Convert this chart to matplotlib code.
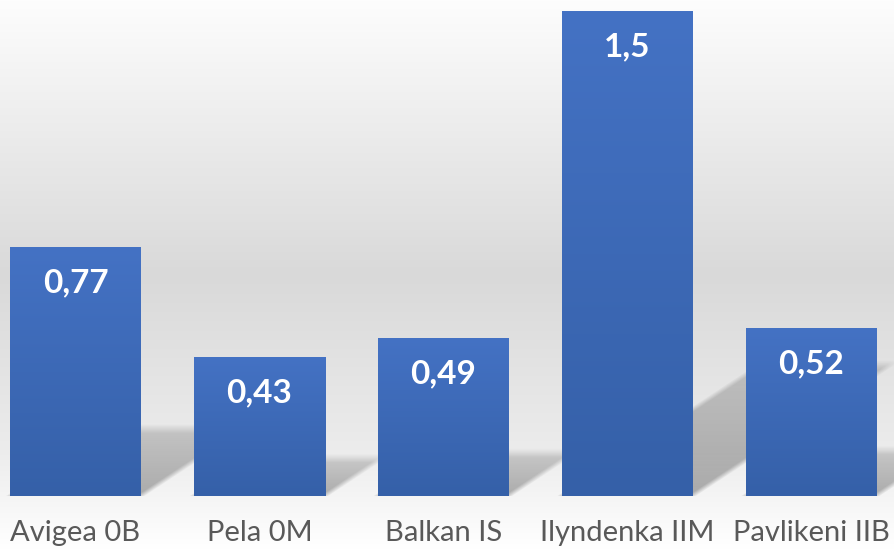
import numpy as np
import matplotlib.pyplot as plt
from matplotlib.colors import LinearSegmentedColormap
from matplotlib.patches import Rectangle

categories = ['Avigea 0B', 'Pela 0M', 'Balkan IS', 'Ilyndenka IIM', 'Pavlikeni IIB']
values = [0.77, 0.43, 0.49, 1.5, 0.52]

plt.rcParams['font.family'] = ['Lato', 'DejaVu Sans']

W, H = 895, 550
fig = plt.figure(figsize=(W / 100, H / 100), dpi=100)

# fondo con degradado vertical (blanco - gris - blanco)
bg = fig.add_axes([0, 0, 1, 1], zorder=0)
bg_cmap = LinearSegmentedColormap.from_list(
    'bg', [(0, '#fdfdfd'), (0.5, '#d9d9d9'), (0.82, '#ececec'), (1, '#ffffff')])
grad = np.linspace(0, 1, 256).reshape(-1, 1)
bg.imshow(grad, aspect='auto', cmap=bg_cmap, extent=[0, 1, 0, 1], origin='upper')
bg.set_axis_off()

step = 184
bar_w = 131 / step
base_px = 54
ax = fig.add_axes([0, base_px / H, 1, (H - base_px) / H], zorder=1)
ax.patch.set_alpha(0)
x = np.arange(len(categories))
ax.set_xlim(-75.5 / step, (W - 75.5) / step)
ax.set_ylim(0, (H - base_px) / 323.3)

# escala px por unidad de datos
pxx = ax.bbox.width / (ax.get_xlim()[1] - ax.get_xlim()[0])
pxy = ax.bbox.height / (ax.get_ylim()[1] - ax.get_ylim()[0])

# sombras en perspectiva detras de las barras
xs = np.linspace(*ax.get_xlim(), 900)
ys = np.linspace(*ax.get_ylim(), 500)
X, Y = np.meshgrid(xs, ys)
alpha = np.zeros_like(X)
soft = 9.0
for xi, v in zip(x, values):
    dy = 0.27 * v
    dx = (dy * pxy / 0.66) / pxx
    t = Y / dy
    xl = X - (xi - bar_w / 2) - t * dx
    d_left = xl * pxx
    d_right = (bar_w - xl) * pxx
    d_top = (dy - Y) * pxy
    m = (np.clip(d_left / soft + 0.5, 0, 1) * np.clip(d_right / soft + 0.5, 0, 1)
         * np.clip(d_top / soft + 0.5, 0, 1))
    a = m * np.clip(0.30 - 0.14 * t, 0, 1)
    alpha = np.maximum(alpha, a)
rgba = np.zeros(X.shape + (4,))
rgba[..., 3] = alpha
ax.imshow(rgba, extent=[*ax.get_xlim(), *ax.get_ylim()], origin='lower',
          aspect='auto', zorder=1, interpolation='bilinear')

# barras con degradado azul
bar_cmap = LinearSegmentedColormap.from_list('bar', ['#3560a8', '#4472c4'])
bars = ax.bar(x, values, width=bar_w, color='none', zorder=2)
for b in bars:
    x0, y0 = b.get_x(), b.get_y()
    w, h = b.get_width(), b.get_height()
    im = ax.imshow(np.linspace(0, 1, 256).reshape(-1, 1), cmap=bar_cmap, origin='lower',
                   extent=[x0, x0 + w, y0, y0 + h], aspect='auto', zorder=2)
    clip = Rectangle((x0, y0), w, h, transform=ax.transData, facecolor='none')
    ax.add_patch(clip)
    im.set_clip_path(clip)

for xi, v in zip(x, values):
    ax.annotate(f'{v:g}'.replace('.', ','), (xi, v), xytext=(0, -26), textcoords='offset points',
                ha='center', va='center', color='white', fontsize=24, fontweight='bold', zorder=3)

ax.set_xlim(-75.5 / step, (W - 75.5) / step)
ax.set_ylim(0, (H - base_px) / 323.3)
ax.set_xticks(x)
ax.set_xticklabels(categories, fontsize=21, color='#595959')
ax.tick_params(axis='x', length=0, pad=17)
ax.set_yticks([])
for s in ax.spines.values():
    s.set_visible(False)

fig.savefig('out.png', dpi=100)
